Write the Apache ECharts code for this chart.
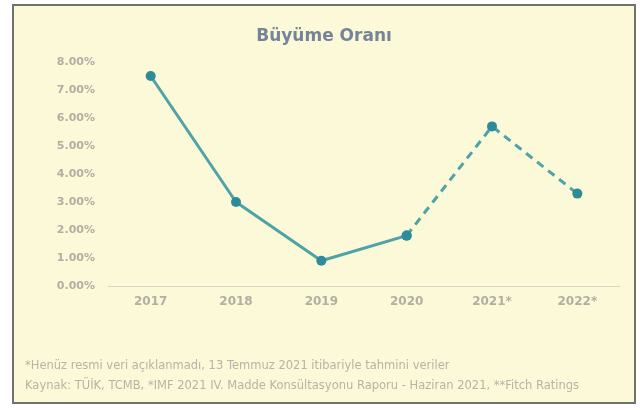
<!DOCTYPE html>
<html>
<head>
<meta charset="utf-8">
<script src="https://cdn.jsdelivr.net/npm/echarts@6/dist/echarts.min.js"></script>
<style>
  body { margin: 0; background: #ffffff; }
  #frame {
    position: absolute; left: 12px; top: 4px;
    width: 620px; height: 396px;
    border: 2px solid #707070;
    background: #fbf9d8;
  }
  #chart { width: 620px; height: 396px; }
</style>
</head>
<body>
<div id="frame"><div id="chart"></div></div>
<script>
// yillar ve buyume oranlari (%)
var years = ['2017', '2018', '2019', '2020', '2021*', '2022*'];
var actual = [7.5, 3.0, 0.9, 1.8, '-', '-'];      // gerceklesen
var forecast = ['-', '-', '-', 1.8, 5.7, 3.3];    // tahmin (kesikli)
var yTicks = [0, 1, 2, 3, 4, 5, 6, 7, 8];

var notes = [
  '*Henüz resmi veri açıklanmadı, 13 Temmuz 2021 itibariyle tahmini veriler',
  'Kaynak: TÜİK, TCMB, *IMF 2021 IV. Madde Konsültasyonu Raporu - Haziran 2021, **Fitch Ratings'
];

var lineColor = '#4ea3a8';
var dotColor = '#2e8c98';
var font = 'DejaVu Sans';

var myChart = echarts.init(document.getElementById('chart'));
var option = {
  backgroundColor: 'transparent',
  title: {
    text: 'Büyüme Oranı',
    left: 'center',
    top: 17,
    textStyle: { fontSize: 17, fontWeight: 'bold', color: '#76849a', fontFamily: font }
  },
  grid: { left: 94, right: 14, top: 56, bottom: 116, containLabel: false },
  xAxis: {
    type: 'category',
    data: years,
    axisLine: { lineStyle: { color: '#d8d7c4', width: 1 } },
    axisTick: { show: false },
    axisLabel: { color: '#b0afa2', fontSize: 12, fontWeight: 'bold', margin: 10, fontFamily: font }
  },
  yAxis: {
    type: 'value',
    min: yTicks[0],
    max: yTicks[yTicks.length - 1],
    interval: 1,
    axisLine: { show: false },
    axisTick: { show: false },
    splitLine: { show: false },
    axisLabel: {
      color: '#b0afa2', fontSize: 11, fontWeight: 'bold', margin: 13, fontFamily: font,
      formatter: function (v) { return v.toFixed(2) + '%'; }
    }
  },
  series: [
    {
      type: 'line',
      data: actual,
      symbol: 'circle',
      symbolSize: 10,
      lineStyle: { color: lineColor, width: 3 },
      itemStyle: { color: dotColor },
      z: 3
    },
    {
      type: 'line',
      data: forecast,
      symbol: 'circle',
      symbolSize: 10,
      lineStyle: { color: lineColor, width: 3, type: [8, 6] },
      itemStyle: { color: dotColor },
      z: 2
    }
  ],
  graphic: [
    { type: 'text', left: 11, top: 354, style: { text: notes[0], fontSize: 11.5, fill: '#b5b4a6', fontFamily: font } },
    { type: 'text', left: 11, top: 374, style: { text: notes[1], fontSize: 11.5, fill: '#b5b4a6', fontFamily: font } }
  ]
};
myChart.setOption(option);
</script>
</body>
</html>
